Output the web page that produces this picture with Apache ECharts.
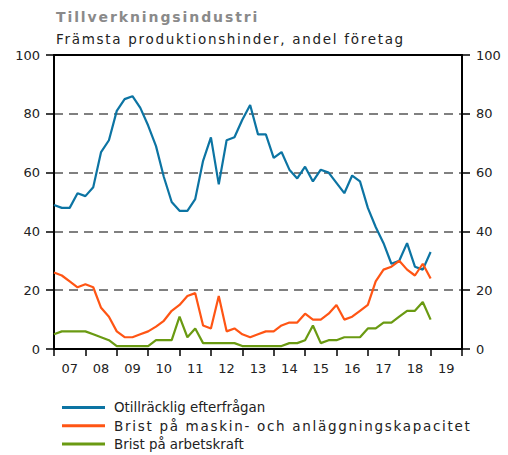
<!DOCTYPE html>
<html>
<head>
<meta charset="utf-8">
<script src="https://cdn.jsdelivr.net/npm/echarts@6/dist/echarts.min.js"></script>
<style>
  html, body { margin: 0; padding: 0; background: #fff; }
  #main { width: 508px; height: 455px; }
  /* the reference text is tracked out a bit */
  #main text[style*="bold"] { letter-spacing: 1.9px; }
  #main text[style*="13.5px"] { letter-spacing: 1.7px; }
</style>
</head>
<body>
<div id="main"></div>
<script>
// quarterly, 2007 Q1 - 2019 Q1
const startYear = 2007
const yearLabels = ['07', '08', '09', '10', '11', '12', '13', '14', '15', '16', '17', '18', '19']
const demand = [49, 48, 48, 53, 52, 55, 67, 71, 81, 85, 86, 82, 76, 69, 58.5, 50, 47, 47, 51, 64,
  72, 56, 71, 72, 78, 83, 73, 73, 65, 67, 61, 58, 62, 57, 61, 60, 56.5, 53, 59, 57,
  48, 41.5, 36, 29, 30, 36, 28, 27, 33]
const capacity = [26, 25, 23, 21, 22, 21, 14, 11, 6, 4, 4, 5, 6, 7.6, 9.6, 13, 15, 18, 19, 8,
  7, 18, 6, 7, 5, 4, 5, 6, 6, 8, 9, 9, 12, 10, 10, 12, 15, 10, 11, 13,
  15, 23, 27, 28, 30, 27, 25, 29, 24]
const labour = [5, 6, 6, 6, 6, 5, 4, 3, 1, 1, 1, 1, 1, 3, 3, 3, 11, 4, 7, 2,
  2, 2, 2, 2, 1, 1, 1, 1, 1, 1, 2, 2, 3, 8, 2, 3, 3, 4, 4, 4,
  7, 7, 9, 9, 11, 13, 13, 16, 10]
const seriesNames = ['Otillräcklig efterfrågan', 'Brist på maskin- och anläggningskapacitet', 'Brist på arbetskraft']
const colors = ['#0c74a3', '#ff5514', '#6a9a12']

const toPoints = arr => arr.map((v, i) => [startYear + i / 4, v])

const font = 'DejaVu Sans, Verdana, sans-serif'
const myChart = echarts.init(document.getElementById('main'), null, { renderer: 'svg' })

const yAxisBase = {
  type: 'value',
  min: 0,
  max: 100,
  interval: 20,
  axisLine: { show: true, lineStyle: { color: '#000', width: 2 } },
  axisTick: { show: true, length: 8, lineStyle: { color: '#000', width: 1.5 } },
  axisLabel: { color: '#222', fontSize: 13, fontFamily: font, margin: 14 }
}

const legendText = size => ({ fontFamily: font, fontSize: size, color: '#222', lineHeight: 15, padding: [0, 0, 0, 4] })

const option = {
  animation: false,
  color: colors,
  title: [
    {
      text: 'Tillverkningsindustri',
      left: 51,
      top: 5,
      textStyle: { fontFamily: font, fontSize: 14, fontWeight: 'bold', color: '#8a8a8a' }
    },
    {
      text: 'Främsta produktionshinder, andel företag',
      left: 51,
      top: 27,
      textStyle: { fontFamily: font, fontSize: 13.5, fontWeight: 'normal', color: '#222' }
    }
  ],
  grid: { left: 54, right: 46, top: 55, bottom: 106 },
  legend: {
    orient: 'vertical',
    left: 62,
    top: 400,
    padding: 0,
    icon: 'rect',
    itemWidth: 43,
    itemHeight: 3,
    itemGap: 3.3,
    textStyle: legendText(13.4),
    data: [
      { name: seriesNames[0], textStyle: legendText(13.4) },
      { name: seriesNames[1], textStyle: legendText(13.5) },
      { name: seriesNames[2], textStyle: legendText(13.4) }
    ]
  },
  xAxis: [
    {
      type: 'category',
      position: 'bottom',
      data: yearLabels,
      boundaryGap: true,
      axisLine: { lineStyle: { color: '#000', width: 2 } },
      axisTick: { show: true, length: 7, lineStyle: { color: '#000', width: 1.5 } },
      axisLabel: { color: '#222', fontSize: 13, fontFamily: font, margin: 13 },
      splitLine: { show: false }
    },
    {
      type: 'value',
      position: 'top',
      min: 2007,
      max: 2020,
      axisLine: { show: true, onZero: false, lineStyle: { color: '#000', width: 2 } },
      axisTick: { show: false },
      axisLabel: { show: false },
      splitLine: { show: false }
    }
  ],
  yAxis: [
    Object.assign({}, yAxisBase, {
      position: 'left',
      splitLine: { show: true, lineStyle: { color: '#808080', width: 2, type: [9, 6] } }
    }),
    Object.assign({}, yAxisBase, {
      position: 'right',
      splitLine: { show: false }
    })
  ],
  series: [demand, capacity, labour].map((arr, k) => ({
    name: seriesNames[k],
    type: 'line',
    xAxisIndex: 1,
    yAxisIndex: 0,
    data: toPoints(arr),
    showSymbol: false,
    symbol: 'none',
    lineStyle: { width: 2.2, color: colors[k] },
    itemStyle: { color: colors[k] },
    z: 3 + k
  }))
}

myChart.setOption(option)
</script>
</body>
</html>
